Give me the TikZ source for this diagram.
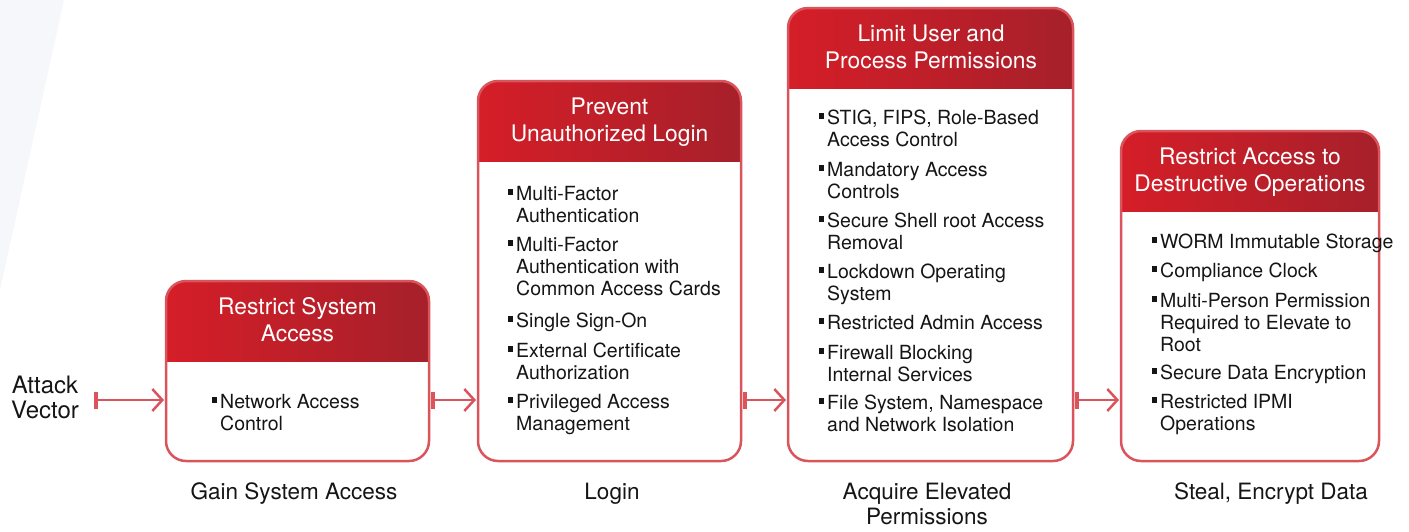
\documentclass[tikz,border=0pt]{standalone}
\usepackage{fontspec}
\setmainfont{TeX Gyre Heros}
\usetikzlibrary{arrows.meta}
\definecolor{bord}{HTML}{D9545B}
\definecolor{hdrL}{HTML}{D51E28}
\definecolor{hdrR}{HTML}{A6202A}
\definecolor{txt}{HTML}{151515}
\definecolor{band}{HTML}{F6F7FA}
\newcommand{\blt}{\llap{\rule[5.5pt]{4.5pt}{6pt}\hspace{3.5pt}}}
\begin{document}
\begin{tikzpicture}[x=1pt,y=-1pt,
  boxbg/.style={rectangle, fill=white, rounded corners=20pt, inner sep=0pt, outer sep=0pt, anchor=north west},
  boxline/.style={draw=bord, line width=2.5pt, rounded corners=20pt},
  hdr/.style={left color=hdrL, right color=hdrR, rounded corners=20pt},
  htext/.style={text=white, font=\fontsize{22.8}{27}\selectfont, align=center, anchor=base, inner sep=0pt},
  btext/.style={text=txt, font=\fontsize{19.5}{22}\selectfont, align=left, anchor=base west, inner sep=0pt},
  ltext/.style={text=txt, font=\fontsize{22.5}{25}\selectfont, align=center, anchor=base, inner sep=0pt},
  arr/.style={draw=bord, line width=2.5pt, {Bar[width=17pt,line width=4pt]}-{Straight Barb[length=10pt,width=22pt]}}
]
\path[use as bounding box] (0,0) rectangle (1409,531);
\fill[band] (0,0) -- (64,0) -- (0,290) -- cycle;

% boxes
\node[boxbg, minimum width=263pt, minimum height=180pt] (b1) at (166,281) {};
\node[boxbg, minimum width=263pt, minimum height=380pt] (b2) at (478,81) {};
\node[boxbg, minimum width=285pt, minimum height=453pt] (b3) at (788,8) {};
\node[boxbg, minimum width=258pt, minimum height=330pt] (b4) at (1121,131) {};

\begin{scope}\clip (160,270) rectangle (440,361);
  \shade[hdr] (b1.north west) rectangle (b1.south east);\end{scope}
\begin{scope}\clip (470,70) rectangle (750,161);
  \shade[hdr] (b2.north west) rectangle (b2.south east);\end{scope}
\begin{scope}\clip (780,0) rectangle (1080,88);
  \shade[hdr] (b3.north west) rectangle (b3.south east);\end{scope}
\begin{scope}\clip (1110,120) rectangle (1390,211);
  \shade[hdr] (b4.north west) rectangle (b4.south east);\end{scope}

\draw[boxline] (b1.north west) rectangle (b1.south east);
\draw[boxline] (b2.north west) rectangle (b2.south east);
\draw[boxline] (b3.north west) rectangle (b3.south east);
\draw[boxline] (b4.north west) rectangle (b4.south east);

% headers (anchor = baseline of last line)
\node[htext] (h1) at (297.5,341) {Restrict System\\Access};
\node[htext] (h2) at (609.5,141) {Prevent\\Unauthorized Login};
\node[htext] (h3) at (931,68) {Limit User and\\Process Permissions};
\node[htext] (h4) at (1250,191) {Restrict Access to\\Destructive Operations};

% body items (anchor = baseline of last line)
\node[btext] (i11) at (220,430) {\blt Network Access\\Control};

\node[btext] (i21) at (516,222) {\blt Multi-Factor\\Authentication};
\node[btext] (i22) at (516,295) {\blt Multi-Factor\\Authentication with\\Common Access Cards};
\node[btext] (i23) at (516,327) {\blt Single Sign-On};
\node[btext] (i24) at (516,379) {\blt External Certificate\\Authorization};
\node[btext] (i25) at (516,430) {\blt Privileged Access\\Management};

\node[btext] (i31) at (827,146) {\blt STIG, FIPS, Role-Based\\Access Control};
\node[btext] (i32) at (827,198) {\blt Mandatory Access\\Controls};
\node[btext] (i33) at (827,249) {\blt Secure Shell root Access\\Removal};
\node[btext] (i34) at (827,300) {\blt Lockdown Operating\\System};
\node[btext] (i35) at (827,329) {\blt Restricted Admin Access};
\node[btext] (i36) at (827,381) {\blt Firewall Blocking\\Internal Services};
\node[btext] (i37) at (827,431) {\blt File System, Namespace\\and Network Isolation};

\node[btext] (i41) at (1160,248) {\blt WORM Immutable Storage};
\node[btext] (i42) at (1160,277) {\blt Compliance Clock};
\node[btext] (i43) at (1160,351) {\blt Multi-Person Permission\\Required to Elevate to\\Root};
\node[btext] (i44) at (1160,379) {\blt Secure Data Encryption};
\node[btext] (i45) at (1160,430) {\blt Restricted IPMI\\Operations};

% bottom labels
\node[ltext] (l1) at (294,499) {Gain System Access};
\node[ltext] (l2) at (612,499) {Login};
\node[ltext] (l3) at (927,524) {Acquire Elevated\\Permissions};
\node[ltext] (l4) at (1271,499) {Steal, Encrypt Data};

\node[ltext, font=\fontsize{24}{25}\selectfont] (av) at (45,418) {Attack\\Vector};

% arrows
\coordinate (ay) at (0,400);
\coordinate (a0) at (94,400);
\draw[arr] (a0) -- ([xshift=-2pt]b1.west |- ay);
\draw[arr] ([xshift=2pt]b1.east |- ay) -- ([xshift=-2pt]b2.west |- ay);
\draw[arr] ([xshift=2pt]b2.east |- ay) -- ([xshift=-2pt]b3.west |- ay);
\draw[arr] ([xshift=2pt]b3.east |- ay) -- ([xshift=-2pt]b4.west |- ay);
\end{tikzpicture}
\end{document}
